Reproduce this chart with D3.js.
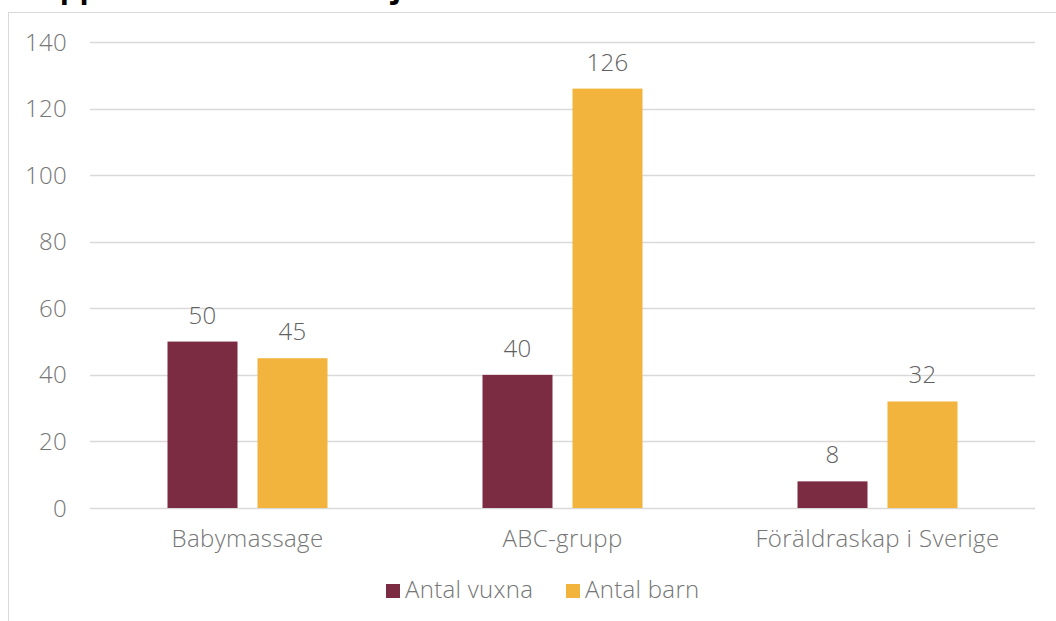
<!DOCTYPE html>
<html>
<head>
<meta charset="utf-8">
<script src="https://cdn.jsdelivr.net/npm/d3@7"></script>
<style>
  html, body { margin: 0; padding: 0; background: #fff; overflow: hidden; }
  svg { display: block; font-family: "Open Sans", Lato, sans-serif; }
</style>
</head>
<body>
<svg id="chart" width="1056" height="621"></svg>
<script>
const categories = ["Babymassage", "ABC-grupp", "Föräldraskap i Sverige"]
const seriesNames = ["Antal vuxna", "Antal barn"]
const vuxna = [50, 40, 8]
const barn = [45, 126, 32]
const yTicks = [0, 20, 40, 60, 80, 100, 120, 140]
const colors = ["#7b2c42", "#f2b43d"]

const width = 1056
const height = 621
const margin = { top: 42, right: 21, bottom: 113, left: 90 }
const fontSize = 24

const data = categories.map((c, i) => ({ cat: c, values: [vuxna[i], barn[i]] }))

const svg = d3.select("#chart")
  .attr("viewBox", [0, 0, width, height])

// title, cut off at the top edge (only descenders show)
svg.append("text")
  .attr("x", 3)
  .attr("y", -2.5)
  .attr("font-size", 30)
  .attr("font-weight", "bold")
  .attr("letter-spacing", 0.6)
  .attr("fill", "#000")
  .text("Gruppverksamhet i familjecentralen")

// chart area border
svg.append("rect")
  .attr("x", 8.5)
  .attr("y", 12.5)
  .attr("width", width)
  .attr("height", height)
  .attr("fill", "none")
  .attr("stroke", "#d9d9d9")
  .attr("stroke-width", 1)

const x = d3.scaleBand()
  .domain(categories)
  .range([margin.left, width - margin.right])

// two bars of 70px with a 20px gap, centred in each band
const groupW = 160
const x1 = d3.scaleBand()
  .domain(seriesNames)
  .range([(x.bandwidth() - groupW) / 2, (x.bandwidth() + groupW) / 2])
  .paddingInner(20 / 90)

const y = d3.scaleLinear()
  .domain([0, 140])
  .range([height - margin.bottom, margin.top])

// gridlines
svg.append("g")
  .selectAll("line")
  .data(yTicks)
  .join("line")
    .attr("x1", margin.left)
    .attr("x2", width - margin.right)
    .attr("y1", d => Math.round(y(d)) + 0.5)
    .attr("y2", d => Math.round(y(d)) + 0.5)
    .attr("stroke", "#d9d9d9")
    .attr("stroke-width", 1.3)

// y tick labels
svg.append("g")
  .selectAll("text")
  .data(yTicks)
  .join("text")
    .attr("x", 67)
    .attr("y", d => y(d))
    .attr("dy", "0.36em")
    .attr("text-anchor", "end")
    .attr("font-size", fontSize)
    .attr("font-weight", 300)
    .attr("letter-spacing", 0.3)
    .attr("fill", "#767676")
    .text(d => d)

const groups = svg.append("g")
  .selectAll("g")
  .data(data)
  .join("g")
    .attr("transform", d => `translate(${x(d.cat)},0)`)

groups.selectAll("rect")
  .data(d => d.values.map((v, i) => ({ key: seriesNames[i], v, i })))
  .join("rect")
    .attr("x", d => x1(d.key))
    .attr("y", d => y(d.v))
    .attr("width", x1.bandwidth())
    .attr("height", d => y(0) - y(d.v))
    .attr("fill", d => colors[d.i])

groups.selectAll("text.val")
  .data(d => d.values.map((v, i) => ({ key: seriesNames[i], v, i })))
  .join("text")
    .attr("class", "val")
    .attr("x", d => x1(d.key) + x1.bandwidth() / 2)
    .attr("y", d => y(d.v) - 18)
    .attr("text-anchor", "middle")
    .attr("font-size", fontSize)
    .attr("font-weight", 300)
    .attr("letter-spacing", 0.3)
    .attr("fill", "#5f5f5f")
    .text(d => d.v)

// category labels
svg.append("g")
  .selectAll("text")
  .data(categories)
  .join("text")
    .attr("x", d => x(d) + x.bandwidth() / 2)
    .attr("y", 547)
    .attr("text-anchor", "middle")
    .attr("font-size", fontSize)
    .attr("font-weight", 300)
    .attr("letter-spacing", 0.4)
    .attr("fill", "#767676")
    .text(d => d)

// legend
const legendX = [386, 566]
const legend = svg.append("g")
  .selectAll("g")
  .data(seriesNames)
  .join("g")
    .attr("transform", (d, i) => `translate(${legendX[i]},584)`)

legend.append("rect")
  .attr("width", 14)
  .attr("height", 14)
  .attr("fill", (d, i) => colors[i])

legend.append("text")
  .attr("x", 19)
  .attr("y", 14)
  .attr("font-size", fontSize)
  .attr("font-weight", 300)
  .attr("letter-spacing", 0.3)
  .attr("fill", "#767676")
  .text(d => d)
</script>
</body>
</html>
